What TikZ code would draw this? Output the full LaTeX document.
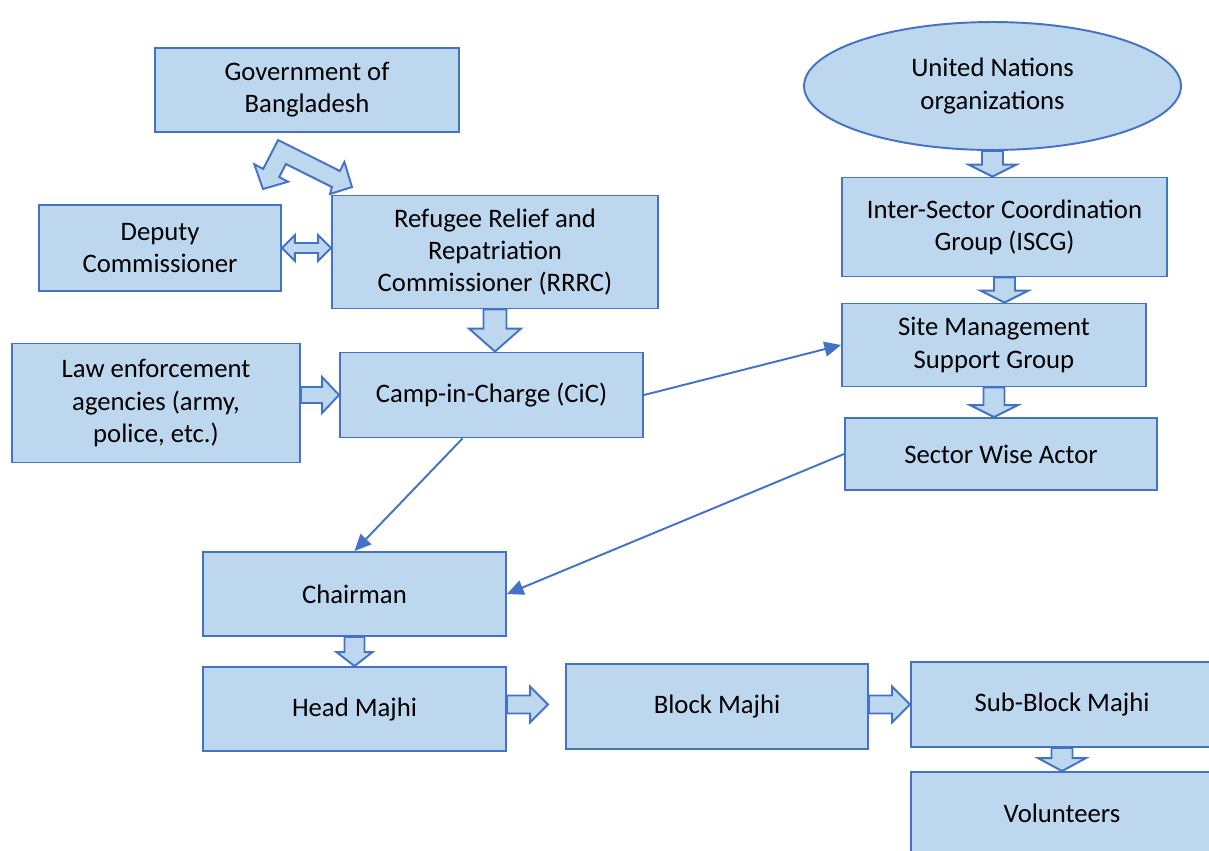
\documentclass[tikz,border=0pt]{standalone}
\usepackage{fontspec}
\setmainfont{Carlito}
\usetikzlibrary{shapes,arrows.meta,calc}

\definecolor{boxfill}{HTML}{BDD7EE}
\definecolor{boxline}{HTML}{4472C4}

% block arrows: #1 start point, #2 tip point, #3 half shaft, #4 half head, #5 head length
\newcommand{\blkdown}[5]{%
	\draw[blkarrow] ($(#1)+(-#3,0)$) -- ($(#1 |- #2)+(-#3,-#5)$) -- ($(#1 |- #2)+(-#4,-#5)$) -- (#1 |- #2) -- ($(#1 |- #2)+(#4,-#5)$) -- ($(#1 |- #2)+(#3,-#5)$) -- ($(#1)+(#3,0)$) -- cycle;}
\newcommand{\blkright}[5]{%
	\draw[blkarrow] ($(#1 |- #2)+(0,-#3)$) -- ($(#2)+(-#5,-#3)$) -- ($(#2)+(-#5,-#4)$) -- (#2) -- ($(#2)+(-#5,#4)$) -- ($(#2)+(-#5,#3)$) -- ($(#1 |- #2)+(0,#3)$) -- cycle;}

\begin{document}
\begin{tikzpicture}
[
	x=0.02cm, y=-0.02cm,
	box/.style={rectangle,draw=boxline,fill=boxfill,line width=1.1pt,align=center,inner sep=0pt,font=\fontsize{15.2}{18.3}\selectfont},
	blkarrow/.style={draw=boxline,fill=boxfill,line width=1.1pt,line join=miter},
	link/.style={draw=boxline,line width=1.1pt,-{Triangle[length=9.5pt,width=8.5pt]}},
]
	\useasboundingbox (0,0) rectangle (1209,850);

	% left column
	\begin{scope}
		\node[box,minimum width=6.08cm,minimum height=1.68cm] (gob) at (307,90) {Government of\\Bangladesh};
		\node[box,minimum width=4.84cm,minimum height=1.72cm] (dc) at (160,248) {Deputy\\Commissioner};
		\node[box,minimum width=6.52cm,minimum height=2.26cm] (rrrc) at (495,252) {Refugee Relief and\\Repatriation\\Commissioner (RRRC)};
		\node[box,minimum width=5.76cm,minimum height=2.38cm] (law) at (156,403) {Law enforcement\\agencies (army,\\police, etc.)};
		\node[box,minimum width=6.06cm,minimum height=1.70cm] (cic) at (491.5,395) {Camp-in-Charge (CiC)};
	\end{scope}

	% right column
	\begin{scope}
		\node[box,ellipse,minimum width=7.54cm,minimum height=2.56cm] (un) at (992.5,86) {United Nations\\organizations};
		\node[box,minimum width=6.50cm,minimum height=1.98cm] (iscg) at (1004.5,227) {Inter-Sector Coordination\\Group (ISCG)};
		\node[box,minimum width=6.08cm,minimum height=1.66cm] (smsg) at (994,345) {Site Management\\Support Group};
		\node[box,minimum width=6.24cm,minimum height=1.44cm] (swa) at (1001,454) {Sector Wise Actor};
	\end{scope}

	% camp level
	\begin{scope}
		\node[box,minimum width=6.06cm,minimum height=1.68cm] (chair) at (354.5,594) {Chairman};
		\node[box,minimum width=6.06cm,minimum height=1.68cm] (head) at (354.5,709) {Head Majhi};
		\node[box,minimum width=6.04cm,minimum height=1.70cm] (block) at (717,706.5) {Block Majhi};
		\node[box,minimum width=6.04cm,minimum height=1.70cm] (sub) at (1062,704.5) {Sub-Block Majhi};
		\node[box,minimum width=6.04cm,minimum height=1.64cm] (vol) at (1062,813) {Volunteers};
	\end{scope}

	% bent arrow from the government
	\draw[blkarrow] (263,189) -- (254.3,164.3) -- (263.2,168.9) -- (278.1,140) -- (339.9,171) -- (344.4,162) -- (352,187) -- (330,194) -- (331.9,187) -- (285.9,164) -- (279.2,177.1) -- (288.1,181.7) -- cycle;

	% double arrow
	\draw[blkarrow] (dc.east) -- ($(dc.east)+(13,-13)$) -- ($(dc.east)+(13,-5)$) -- ($(rrrc.west |- dc.east)+(-13,-5)$) -- ($(rrrc.west |- dc.east)+(-13,-13)$) -- (rrrc.west |- dc.east) -- ($(rrrc.west |- dc.east)+(-13,13)$) -- ($(rrrc.west |- dc.east)+(-13,5)$) -- ($(dc.east)+(13,5)$) -- ($(dc.east)+(13,13)$) -- cycle;

	\coordinate (hbtip) at ($(block.west)+(-17,-2)$);

	\blkdown{rrrc.south}{cic.north}{11.5}{26}{23}
	\blkright{law.east}{cic.west}{8}{18}{17}
	\blkdown{un.south}{iscg.north}{10.5}{24}{12}
	\blkdown{iscg.south}{smsg.north}{10.5}{24}{12}
	\blkdown{smsg.south}{swa.north}{10.5}{24}{12}
	\blkdown{chair.south}{head.north}{10}{18}{14}
	\blkright{head.east}{hbtip}{9}{18}{18}
	\blkright{block.east}{sub.west}{9}{18}{18}
	\blkdown{sub.south}{vol.north}{10.5}{24}{13}

	% thin links
	\draw[link] (cic.east) -- (smsg.west);
	\draw[link] ($(cic.south)+(-29,0)$) -- (chair.north);
	\draw[link] (swa.west) -- (chair.east);
\end{tikzpicture}
\end{document}
